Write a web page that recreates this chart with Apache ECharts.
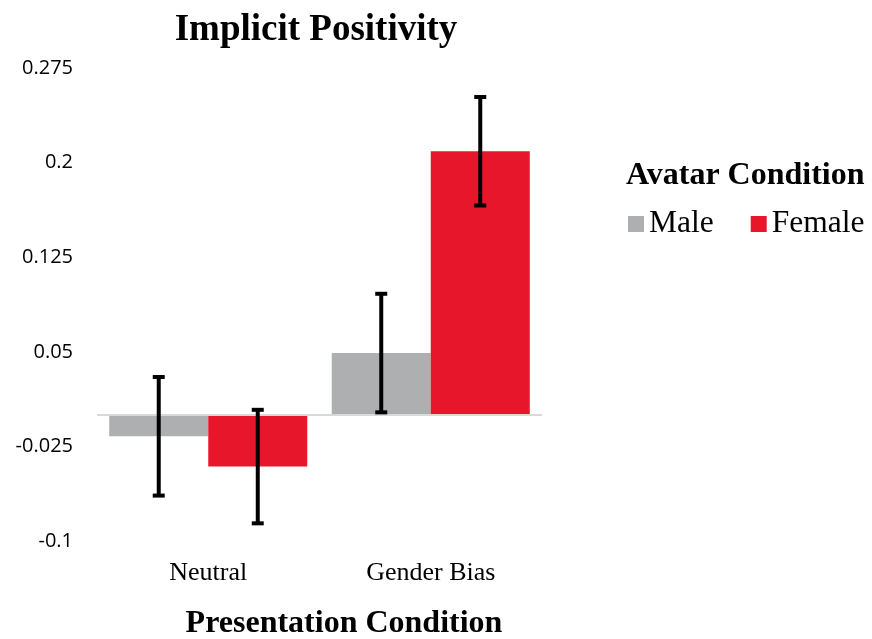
<!DOCTYPE html>
<html>
<head>
<meta charset="utf-8">
<script src="https://cdn.jsdelivr.net/npm/echarts@6/dist/echarts.min.js"></script>
<style>html,body{margin:0;padding:0;background:#fff}#c{width:872px;height:639px}</style>
</head>
<body>
<div id="c"></div>
<script>
const categories = ['Neutral', 'Gender Bias'];
const seriesNames = ['Male', 'Female'];
const maleMeans = [-0.017, 0.049];
const femaleMeans = [-0.041, 0.209];
const maleErr = [0.047, 0.047];
const femaleErr = [0.045, 0.043];
const yMin = -0.1, yMax = 0.275, yStep = 0.075;

const GRAY = '#AEAFB1', RED = '#E8162B';
const SERIF = '"Liberation Serif", "Times New Roman", serif';
const CAT_GAP = 0.11;

function errData(means, errs) {
  return means.map((m, i) => [i, m, errs[i]]);
}
function errRender(sign) {
  return function (params, api) {
    const i = api.value(0), c = api.value(1), e = api.value(2);
    const band = api.size([1, 0])[0];
    const off = sign * band * (1 - CAT_GAP) / 4;
    const top = api.coord([i, c + e]);
    const bot = api.coord([i, c - e]);
    const x = top[0] + off;
    const st = { fill: '#000' };
    return {
      type: 'group',
      children: [
        { type: 'rect', shape: { x: x - 2, y: top[1], width: 4, height: bot[1] - top[1] }, style: st },
        { type: 'rect', shape: { x: x - 6, y: top[1] - 2, width: 12, height: 4 }, style: st },
        { type: 'rect', shape: { x: x - 6, y: bot[1] - 2, width: 12, height: 4 }, style: st }
      ]
    };
  };
}

const chart = echarts.init(document.getElementById('c'), null, { renderer: 'canvas' });
chart.setOption({
  animation: false,
  backgroundColor: '#fff',
  title: [
    { text: 'Implicit Positivity', left: 311, top: 7, textAlign: 'center',
      textStyle: { fontFamily: SERIF, fontWeight: 'bold', fontSize: 37, color: '#000' } },
    { text: 'Presentation Condition', left: 339, top: 603, textAlign: 'center',
      textStyle: { fontFamily: SERIF, fontWeight: 'bold', fontSize: 32, color: '#000' } },
    { text: 'Avatar Condition', left: 621, top: 155,
      textStyle: { fontFamily: SERIF, fontWeight: 'bold', fontSize: 32, color: '#000' } }
  ],
  legend: {
    data: seriesNames,
    left: 623, top: 203,
    icon: 'rect', itemWidth: 16, itemHeight: 16, itemGap: 37,
    textStyle: { fontFamily: SERIF, fontSize: 31.5, color: '#000' }
  },
  grid: { left: 97, right: 330, top: 68, bottom: 98, containLabel: false },
  xAxis: {
    type: 'category', data: categories,
    axisLine: { show: false }, axisTick: { show: false },
    axisLabel: { fontFamily: SERIF, fontSize: 26, color: '#000', margin: 19 }
  },
  yAxis: {
    type: 'value', min: yMin, max: yMax, interval: yStep,
    axisLine: { show: false }, axisTick: { show: false }, splitLine: { show: false },
    axisLabel: { fontFamily: '"Open Sans", sans-serif', fontSize: 20, color: '#000', margin: 24,
      formatter: v => String(parseFloat(v.toFixed(3))) }
  },
  series: [
    { name: 'Male', type: 'bar', data: maleMeans, itemStyle: { color: GRAY },
      barGap: '0%', barCategoryGap: (CAT_GAP * 100) + '%',
      markLine: { silent: true, symbol: 'none', label: { show: false },
        lineStyle: { color: '#D9D9D9', width: 2, type: 'solid' }, data: [{ yAxis: 0 }] } },
    { name: 'Female', type: 'bar', data: femaleMeans, itemStyle: { color: RED },
      barGap: '0%', barCategoryGap: (CAT_GAP * 100) + '%' },
    { name: 'MaleErr', type: 'custom', data: errData(maleMeans, maleErr), renderItem: errRender(-1), z: 10 },
    { name: 'FemaleErr', type: 'custom', data: errData(femaleMeans, femaleErr), renderItem: errRender(1), z: 10 }
  ]
});
</script>
</body>
</html>
